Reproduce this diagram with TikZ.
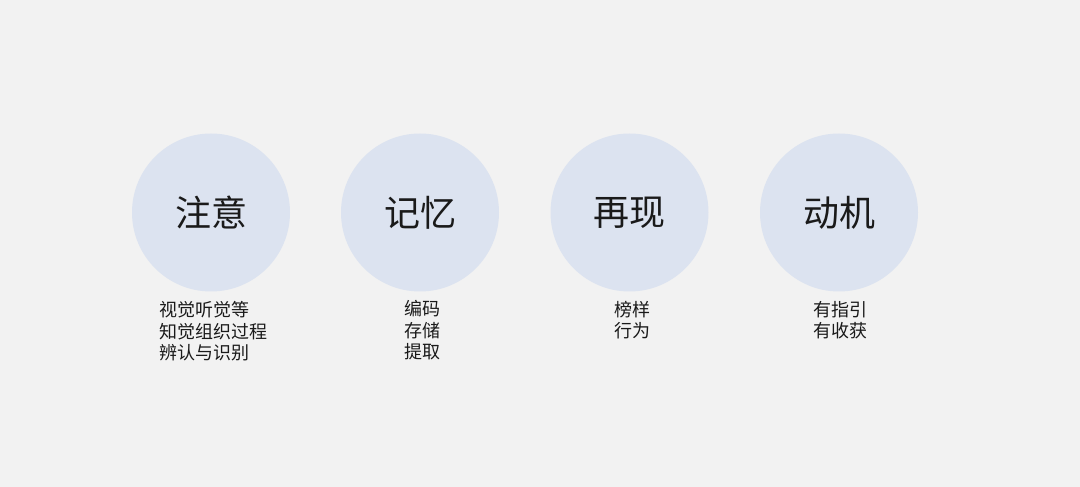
\documentclass[tikz,border=0pt]{standalone}
\usepackage{fontspec}
\setmainfont{Noto Sans CJK SC}
\definecolor{bgc}{HTML}{F2F2F2}
\definecolor{circc}{HTML}{DCE3F0}
\definecolor{txtc}{HTML}{1A1A1A}
\begin{document}
\begin{tikzpicture}[x=1pt,y=1pt,
  bubble/.style={circle,fill=circc,minimum size=158pt,inner sep=0pt,text=txtc,font=\fontsize{36}{40}\selectfont},
  sub/.style={anchor=base west,inner sep=0pt,text=txtc,font=\fontsize{18}{21}\selectfont}]
\fill[bgc] (0,0) rectangle (1080,487);
\useasboundingbox (0,0) rectangle (1080,487);
\node[bubble] (c1) at (211,274.5) {注意};
\node[bubble] (c2) at (420,274.5) {记忆};
\node[bubble] (c3) at (629.5,274.5) {再现};
\node[bubble] (c4) at (839,274.5) {动机};
% block 1
\node[sub] (a1) at (159,170) {视觉听觉等};
\node[sub] (a2) at (159,148.5) {知觉组织过程};
\node[sub] (a3) at (159,127) {辨认与识别};
% block 2
\node[sub] (b1) at (404,171) {编码};
\node[sub] (b2) at (404,149.5) {存储};
\node[sub] (b3) at (404,128) {提取};
% block 3
\node[sub] (d1) at (614,170.5) {榜样};
\node[sub] (d2) at (614,149) {行为};
% block 4
\node[sub] (e1) at (813,170.5) {有指引};
\node[sub] (e2) at (813,149) {有收获};
\end{tikzpicture}
\end{document}
